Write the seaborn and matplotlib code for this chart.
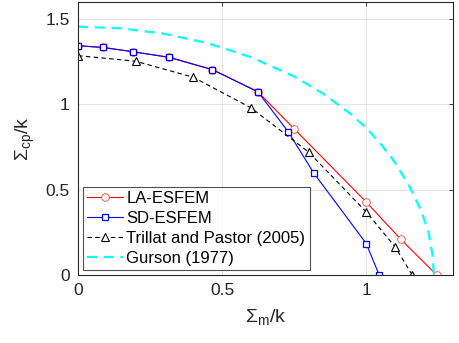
import matplotlib
matplotlib.use("Agg")
import matplotlib.pyplot as plt
import seaborn as sns
import pandas as pd

# Data
la_x = [0, 0.086, 0.19, 0.316, 0.466, 0.624, 0.75, 1.0, 1.12, 1.245]
la_y = [1.344, 1.334, 1.309, 1.276, 1.204, 1.074, 0.857, 0.428, 0.21, 0.0]

sd_x = [0, 0.086, 0.19, 0.316, 0.466, 0.624, 0.73, 0.817, 1.0, 1.045]
sd_y = [1.344, 1.334, 1.309, 1.276, 1.204, 1.074, 0.838, 0.60, 0.185, 0.0]

tp_x = [0, 0.2, 0.4, 0.6, 0.8, 1.0, 1.1, 1.16]
tp_y = [1.286, 1.253, 1.159, 0.98, 0.721, 0.37, 0.166, 0.0]

gu_x = [0, 0.15, 0.3, 0.45, 0.6, 0.75, 0.85, 0.95, 1.0, 1.05, 1.1, 1.15, 1.19, 1.215, 1.23, 1.235]
gu_y = [1.456, 1.446, 1.414, 1.359, 1.277, 1.164, 1.064, 0.939, 0.862, 0.77, 0.66, 0.52, 0.38, 0.26, 0.12, 0.0]

labels = ["LA-ESFEM", "SD-ESFEM", "Trillat and Pastor (2005)", "Gurson (1977)"]
x_ticks = [0, 0.5, 1]
y_ticks = [0, 0.5, 1, 1.5]
x_ticklabels = ["0", "0.5", "1"]
y_ticklabels = ["0", "0.5", "1", "1.5"]

sns.set_style("white")
plt.rcParams['font.family'] = ['Liberation Sans', 'DejaVu Sans']
plt.rcParams['mathtext.fontset'] = 'custom'
plt.rcParams['mathtext.rm'] = 'Liberation Sans'
plt.rcParams['mathtext.it'] = 'Liberation Sans'

fig = plt.figure(figsize=(4.6, 3.43), dpi=100)
ax = fig.add_axes([0.170, 0.198, 0.814, 0.796])

axc = (0.15, 0.15, 0.15)

sns.lineplot(x=la_x, y=la_y, ax=ax, sort=False, estimator=None, color=(1, 0, 0),
             linewidth=0.8, marker='o', markersize=5.5, markerfacecolor='white',
             markeredgecolor=(1, 0.25, 0.25), markeredgewidth=0.6, label=labels[0])
sns.lineplot(x=sd_x, y=sd_y, ax=ax, sort=False, estimator=None, color=(0, 0, 1),
             linewidth=0.8, marker='s', markersize=5, markerfacecolor='white',
             markeredgecolor=(0, 0, 1), markeredgewidth=0.9, label=labels[1])
sns.lineplot(x=tp_x, y=tp_y, ax=ax, sort=False, estimator=None, color='black',
             linewidth=0.8, linestyle=(0, (4, 3)), marker='^', markersize=6,
             markerfacecolor='white', markeredgecolor='black', markeredgewidth=0.8,
             label=labels[2])
sns.lineplot(x=gu_x, y=gu_y, ax=ax, sort=False, estimator=None, color=(0, 1, 1),
             linewidth=1.6, linestyle=(0, (4.5, 3)), label=labels[3])

ax.set_xlim(0, 1.3)
ax.set_ylim(0, 1.6)
ax.set_xticks(x_ticks)
ax.set_xticklabels(x_ticklabels)
ax.set_yticks(y_ticks)
ax.set_yticklabels(y_ticklabels)
ax.grid(True, color=(0.88, 0.88, 0.88), linewidth=0.6)
ax.set_axisbelow(True)
ax.tick_params(direction='in', length=3, width=0.6, colors=axc, labelsize=12.5,
               top=True, right=True, labeltop=False, labelright=False, pad=6)
for s in ax.spines.values():
    s.set_color(axc)
    s.set_linewidth(0.8)
    s.set_visible(True)

ax.set_xlabel(r'$\Sigma_{\rm m}$/k', fontsize=14, color=axc, labelpad=6)
ax.set_ylabel(r'$\Sigma_{\rm cp}$/k', fontsize=14, color=axc, labelpad=6)

leg = ax.legend(loc='lower left', bbox_to_anchor=(0.013, 0.018), borderaxespad=0,
                fontsize=12, frameon=True, fancybox=False, handlelength=2.15,
                handletextpad=0.2, labelspacing=0.3, borderpad=0.25)
leg.get_frame().set_edgecolor(axc)
leg.get_frame().set_linewidth(0.8)
for t in leg.get_texts():
    t.set_color('black')

fig.savefig("out.png", dpi=100)
